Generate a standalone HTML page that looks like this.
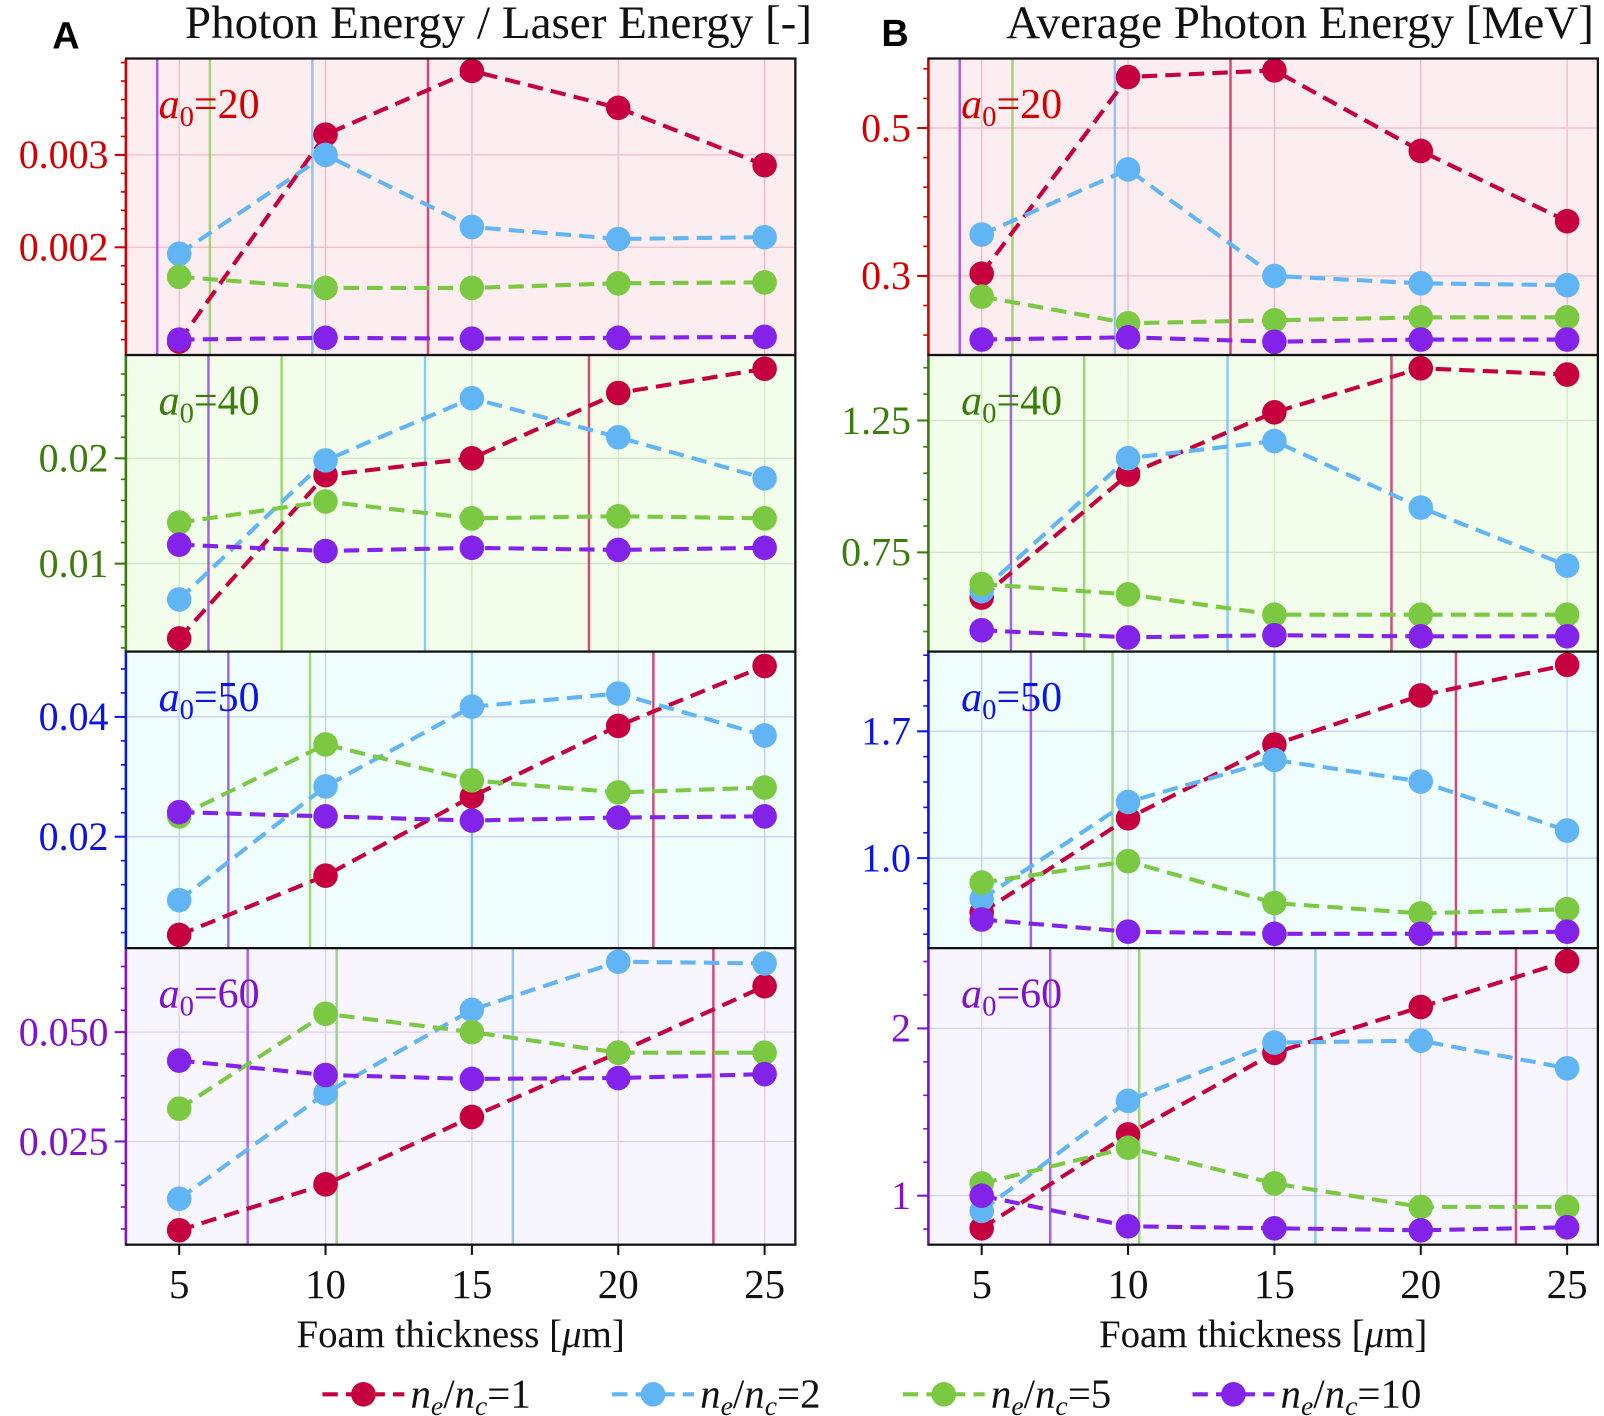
<!DOCTYPE html>
<html><head><meta charset="utf-8"><style>
body{margin:0;background:#fff}
svg{display:block;font-family:"Liberation Serif",serif}
</style></head><body>
<svg id="c" width="1604" height="1416" viewBox="0 0 1567 1383"></svg>
<script>
const xs=[5,10,15,20,25];
// panel A data (photon/laser energy)
const A20_r=[0.00098,0.00322,0.00391,0.00351,0.00289];
const A20_b=[0.00193,0.0030,0.00222,0.00209,0.00211];
const A20_g=[0.00168,0.00156,0.00156,0.00161,0.00162];
const A20_p=[0.00100,0.00102,0.00101,0.00102,0.00103];
const A40_r=[0.0029,0.0184,0.0200,0.0262,0.0285];
const A40_b=[0.0066,0.0198,0.0257,0.0220,0.0181];
const A40_g=[0.0139,0.0159,0.0143,0.0145,0.0143];
const A40_p=[0.0118,0.0112,0.0115,0.0113,0.0115];
const A50_r=[0.0036,0.0135,0.0267,0.0385,0.0485];
const A50_b=[0.0094,0.0284,0.0417,0.0439,0.0369];
const A50_g=[0.0234,0.0354,0.0294,0.0274,0.0282];
const A50_p=[0.0241,0.0234,0.0227,0.0232,0.0234];
const A60_r=[0.0047,0.0152,0.0306,0.0453,0.0605];
const A60_b=[0.0119,0.0360,0.0551,0.0661,0.0657];
const A60_g=[0.0325,0.0542,0.0500,0.0453,0.0453];
const A60_p=[0.0435,0.0402,0.0393,0.0395,0.0404];
// panel B data (average photon energy)
const B20_r=[0.303,0.569,0.578,0.469,0.374];
const B20_b=[0.356,0.444,0.300,0.290,0.2875];
const B20_g=[0.272,0.236,0.240,0.244,0.244];
const B20_p=[0.214,0.217,0.211,0.214,0.214];
const B40_r=[0.579,1.045,1.281,1.448,1.424];
const B40_b=[0.603,1.107,1.172,0.920,0.700];
const B40_g=[0.630,0.591,0.514,0.514,0.514];
const B40_p=[0.455,0.428,0.436,0.432,0.432];
const B50_r=[0.700,1.220,1.627,1.898,2.067];
const B50_b=[0.774,1.310,1.542,1.423,1.152];
const B50_g=[0.865,0.983,0.752,0.695,0.718];
const B50_p=[0.661,0.594,0.582,0.582,0.594];
const B60_r=[0.805,1.366,1.854,2.128,2.402];
const B60_b=[0.909,1.567,1.915,1.927,1.762];
const B60_g=[1.073,1.287,1.073,0.933,0.933];
const B60_p=[1.000,0.817,0.805,0.793,0.811];
// vertical marker lines (x values) per a0: purple, green, blue, red
const V20=[4.25,6.05,9.55,13.5];
const V40=[6.0,8.5,13.4,19.0];
const V50=[6.68,9.47,15.0,21.2];
const V60=[7.34,10.38,16.4,23.25];
const xTicks=[5,10,15,20,25];
const colors=["#c6003e","#62b5f5","#7bc843","#8322e8"];
const lineColors=["#8322e8","#7bc843","#62b5f5","#c6003e"];
const rows=[
 {a:20,bg:"#fcedf1",lc:"#d40000",grid:"#f0b8c4",A:[A20_r,A20_b,A20_g,A20_p],B:[B20_r,B20_b,B20_g,B20_p],V:V20,
  ay:[0.000833,0.004044],aticks:[0.002,0.003],alab:["0.002","0.003"],by:[0.193,0.594],bticks:[0.3,0.5],blab:["0.3","0.5"]},
 {a:40,bg:"#f2fdec",lc:"#3a7d0a",grid:"#cfe9bf",A:[A40_r,A40_b,A40_g,A40_p],B:[B40_r,B40_b,B40_g,B40_p],V:V40,
  ay:[0.00165,0.0298],aticks:[0.01,0.02],alab:["0.01","0.02"],by:[0.374,1.498],bticks:[0.75,1.25],blab:["0.75","1.25"]},
 {a:50,bg:"#effdfd",lc:"#0a14e6",grid:"#c4cdf0",A:[A50_r,A50_b,A50_g,A50_p],B:[B50_r,B50_b,B50_g,B50_p],V:V50,
  ay:[0.0014,0.0509],aticks:[0.02,0.04],alab:["0.02","0.04"],by:[0.503,2.14],bticks:[1.0,1.7],blab:["1.0","1.7"]},
 {a:60,bg:"#f7f6fe",lc:"#8012cc",grid:"#dccbf3",A:[A60_r,A60_b,A60_g,A60_p],B:[B60_r,B60_b,B60_g,B60_p],V:V60,
  ay:[0.0014,0.0692],aticks:[0.025,0.05],alab:["0.025","0.050"],by:[0.707,2.48],bticks:[1,2],blab:["1","2"]}
];
const NS="http://www.w3.org/2000/svg";
const svg=document.getElementById('c');
function el(tag,attrs,parent,txt){const e=document.createElementNS(NS,tag);for(const k in attrs)e.setAttribute(k,attrs[k]);if(txt!==undefined)e.textContent=txt;(parent||svg).appendChild(e);return e;}
const cols=[{L:123,R:777,key:'A',yk:'ay',tk:'aticks',lb:'alab'},{L:907,R:1561,key:'B',yk:'by',tk:'bticks',lb:'blab'}];
const top0=57,ph=289.7;
function xmap(c,v){return c.L+(v-3.18)/(26.05-3.18)*(c.R-c.L);}
cols.forEach((c,ci)=>{
 rows.forEach((r,ri)=>{
  const T=top0+ri*ph,B=T+ph;
  const [y0,y1]=r[c.yk];
  const ymap=v=>B-(v-y0)/(y1-y0)*(B-T);
  const g=el('g',{});
  
  
  el('rect',{x:c.L,y:T,width:c.R-c.L,height:ph,fill:r.bg},g);
  xTicks.forEach(t=>{const x=xmap(c,t);el('line',{x1:x,x2:x,y1:T,y2:B,stroke:r.grid,'stroke-width':1.2},g);});
  r[c.tk].forEach(t=>{const y=ymap(t);el('line',{x1:c.L,x2:c.R,y1:y,y2:y,stroke:r.grid,'stroke-width':1.2},g);});
  r.V.forEach((v,i)=>{const x=xmap(c,v);const ln=el('line',{x1:x,x2:x,y1:T,y2:B,stroke:lineColors[i],'stroke-width':2.4,opacity:0.7},g);
   });
  const tk=r[c.tk];const step=tk[1]-tk[0];const mstep=step/5;
  for(let k=Math.ceil((y0-tk[0])/mstep);tk[0]+k*mstep<=y1;k++){const v=tk[0]+k*mstep;const y=ymap(v);
   el('line',{x1:c.L-5,x2:c.L,y1:y,y2:y,stroke:r.lc,'stroke-width':1.6},g);}
  tk.forEach((t,i)=>{const y=ymap(t);el('line',{x1:c.L-11,x2:c.L,y1:y,y2:y,stroke:r.lc,'stroke-width':2},g);
   const tx=el('text',{x:c.L-17,y:y+13,'text-anchor':'end','font-size':39,fill:r.lc},g,r[c.lb][i]);
   });
  r[c.key].forEach((s,si)=>{
   const pts=s.map((v,i)=>xmap(c,xs[i])+','+ymap(v)).join(' ');
   const pl=el('polyline',{points:pts,fill:'none',stroke:colors[si],'stroke-width':4,'stroke-dasharray':'15,8'},g);
   
  });
  r[c.key].forEach((s,si)=>{
   s.forEach((v,i)=>{const p=el('circle',{cx:xmap(c,xs[i]),cy:ymap(v),r:12,fill:colors[si]},g);
    });
  });
  const lab=el('text',{x:c.L+32,y:T+58,'font-size':41,fill:r.lc},g);
  
  el('tspan',{'font-style':'italic'},lab,'a');
  el('tspan',{'font-size':28,dy:8},lab,'0');
  el('tspan',{dy:-8},lab,'=' + r.a);
  el('rect',{x:c.L,y:T,width:c.R-c.L,height:ph,fill:'none',stroke:'#111','stroke-width':2.2},g);
  el('line',{x1:c.L,x2:c.L,y1:T+1,y2:B-1,stroke:r.lc,'stroke-width':2.4},g);
 });
 const Bot=top0+4*ph;
 xTicks.forEach(t=>{const x=xmap(c,t);el('line',{x1:x,x2:x,y1:Bot,y2:Bot+10,stroke:'#111','stroke-width':2});
  const tx=el('text',{x:x,y:Bot+52,'text-anchor':'middle','font-size':40,fill:'#111'},svg,String(t));
  });
 const xt=el('text',{x:(c.L+c.R)/2,y:1316,'text-anchor':'middle','font-size':38,fill:'#111'});
 
 el('tspan',{},xt,'Foam thickness [');el('tspan',{'font-style':'italic'},xt,'μ');el('tspan',{},xt,'m]');
});
let t1=el('text',{x:487,y:37,'text-anchor':'middle','font-size':46,fill:'#111'},svg,'Photon Energy / Laser Energy [-]');

let t2=el('text',{x:1270,y:37,'text-anchor':'middle','font-size':46,fill:'#111'},svg,'Average Photon Energy [MeV]');

let pa=el('text',{x:51,y:47,'font-size':37,'font-weight':'bold','font-family':'Liberation Sans, sans-serif',fill:'#000'},svg,'A');

let pb=el('text',{x:861,y:45,'font-size':37,'font-weight':'bold','font-family':'Liberation Sans, sans-serif',fill:'#000'},svg,'B');

const legVals=['1','2','5','10'];
const legX=[315,598,882,1165];
legVals.forEach((v,i)=>{
 const g=el('g',{});
 
 
 el('line',{x1:legX[i],x2:legX[i]+80,y1:1362,y2:1362,stroke:colors[i],'stroke-width':4,'stroke-dasharray':'15,8'},g);
 el('circle',{cx:legX[i]+40,cy:1362,r:12,fill:colors[i]},g);
 const t=el('text',{x:legX[i]+86,y:1375,'font-size':40,fill:'#111'},g);
 el('tspan',{'font-style':'italic'},t,'n');el('tspan',{'font-style':'italic','font-size':27,dy:7},t,'e');
 el('tspan',{dy:-7},t,'/');el('tspan',{'font-style':'italic'},t,'n');el('tspan',{'font-style':'italic','font-size':27,dy:7},t,'c');
 el('tspan',{dy:-7},t,'='+v);
});
</script>
</body></html>
